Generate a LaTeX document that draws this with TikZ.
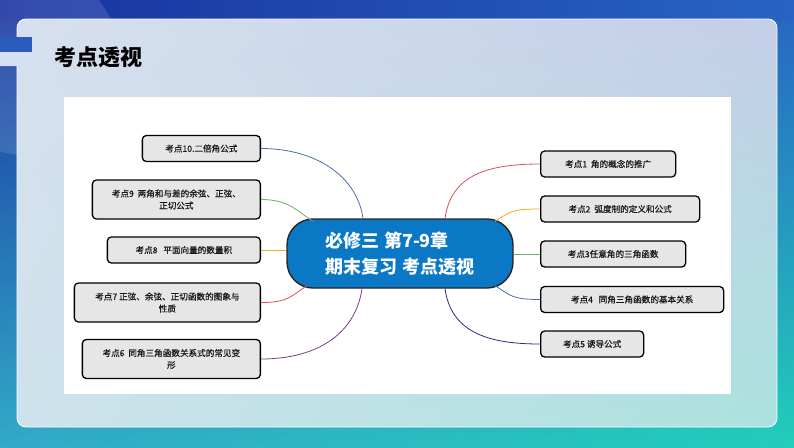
\documentclass[tikz,border=0pt]{standalone}
\usepackage{fontspec}
\setmainfont{Noto Sans CJK SC}
\newfontfamily\kdfont[FakeBold=0.6]{Noto Sans CJK SC}
\usetikzlibrary{positioning,calc,shadings}

\definecolor{hubblue}{HTML}{0B78C6}
\definecolor{boxgray}{HTML}{E6E6E6}
\definecolor{lnblue}{HTML}{4A70B0}
\definecolor{lngreen}{HTML}{6CB060}
\definecolor{lnorange}{HTML}{E8B020}
\definecolor{lnred}{HTML}{E04C58}
\definecolor{lnpurple}{HTML}{74408A}
\definecolor{lnnavy}{HTML}{2C2C80}
\definecolor{bgul}{RGB}{24,50,160}
\definecolor{bgut}{RGB}{76,186,196}
\definecolor{bgur}{RGB}{40,100,196}
\definecolor{bgll}{RGB}{50,170,200}
\definecolor{bglr}{RGB}{34,206,186}
\definecolor{pnul}{RGB}{214,224,238}
\definecolor{pnur}{RGB}{196,206,232}
\definecolor{pnll}{RGB}{206,226,236}
\definecolor{pnlr}{RGB}{170,226,222}
\definecolor{tabblue}{RGB}{42,92,190}
\definecolor{tabbar}{RGB}{214,224,244}

\begin{document}
\begin{tikzpicture}[x=1pt, y=-1pt, semithick]

    \tikzstyle{kd} = [rectangle, rounded corners=4pt, draw=black, line width=1.3pt, fill=boxgray, minimum height=26pt, align=center, inner sep=2pt, text=black!90, font=\kdfont\fontsize{8.6}{12}\selectfont]
    \tikzstyle{kd2} = [kd, minimum height=39pt]
    \tikzstyle{hub} = [rectangle, rounded corners=26pt, draw=black!85, line width=1.4pt, fill=hubblue, text=white, align=left, minimum width=226pt, minimum height=69pt, font=\fontsize{18}{26}\selectfont\bfseries]
    \tikzstyle{br} = [line width=0.8pt]

    \useasboundingbox (0,0) rectangle (794,447);

    % background
    \shade[upper left=bgul, upper right=bgur, lower left=bgll, lower right=bglr] (0,0) rectangle (794,447);
    \shade[left color=bgul, middle color=bgut, right color=bgur] (0,0) rectangle (794,20);
    \fill[white, opacity=0.12] (25,60) circle (95);
    \shade[rounded corners=9pt, upper left=pnul, upper right=pnur, lower left=pnll, lower right=pnlr] (17,19) rectangle (777,427);
    \draw[white, line width=0.8pt, rounded corners=9pt] (17,19) rectangle (777,427);
    \fill[tabblue] (0,37) rectangle (32,56);
    \fill[tabbar, rounded corners=5pt] (-6,52) rectangle (36,66);
    \node (title) [anchor=west, font=\fontsize{22}{24}\selectfont\bfseries] at (51,57) {考点透视};
    \fill[white] (64,97) rectangle (731,394);

    % centre
    \node (main) [hub] at (400,253.5) {必修三 第7-9章\\期末复习 考点透视};

    % right side
    \node (k1) [kd, anchor=west, minimum width=135pt] at (540,164)   {考点1\ \ 角的概念的推广};
    \node (k2) [kd, anchor=west, minimum width=159pt] at (540,209)   {考点2\ \ 弧度制的定义和公式};
    \node (k3) [kd, anchor=west, minimum width=145pt] at (540,254)   {考点3任意角的三角函数};
    \node (k4) [kd, anchor=west, minimum width=183pt] at (540,299.5) {考点4\ \ \ 同角三角函数的基本关系};
    \node (k5) [kd, anchor=west, minimum width=103pt] at (540,344)   {考点5 诱导公式};

    % left side
    \node (k10) [kd,  anchor=east, minimum width=118pt] at (261,148.5) {考点10.二倍角公式};
    \node (k9)  [kd2, anchor=east, minimum width=168pt] at (261,199.5) {考点9\ \ 两角和与差的余弦、正弦、\\正切公式};
    \node (k8)  [kd,  anchor=east, minimum width=153pt] at (261,250)   {考点8\ \ \ 平面向量的数量积};
    \node (k7)  [kd2, anchor=east, minimum width=186pt] at (261,302.5) {考点7 正弦、余弦、正切函数的图象与\\性质};
    \node (k6)  [kd2, anchor=east, minimum width=178pt] at (261,359)   {考点6\ \ 同角三角函数关系式的常见变\\形};

    % branches
    \draw[br, lnred]    (k1.west) .. controls +(-55,0) and +(6,-42) .. ($(main.north)+(45,0)$);
    \draw[br, lnorange] (k2.west) .. controls +(-28,0) and +(16,-10) .. ($(main.north)+(95,3)$);
    \draw[br, lngreen]  (k3.west) -- (k3.west -| main.east);
    \draw[br, lnblue]   (k4.west) .. controls +(-28,0) and +(16,10) .. ($(main.south)+(95,-3)$);
    \draw[br, lnnavy]   (k5.west) .. controls +(-55,0) and +(6,42) .. ($(main.south)+(45,0)$);

    \draw[br, lnblue]   (k10.east) .. controls +(55,0) and +(-6,-42) .. ($(main.north)+(-37,0)$);
    \draw[br, lngreen]  (k9.east) .. controls +(28,0) and +(-16,-10) .. ($(main.north)+(-87,3)$);
    \draw[br, lnorange] (k8.east) -- (k8.east -| main.west);
    \draw[br, lnred]    (k7.east) .. controls +(28,0) and +(-16,10) .. ($(main.south)+(-93,-3)$);
    \draw[br, lnpurple] (k6.east) .. controls +(60,0) and +(-6,42) .. ($(main.south)+(-38,0)$);
\end{tikzpicture}
\end{document}
